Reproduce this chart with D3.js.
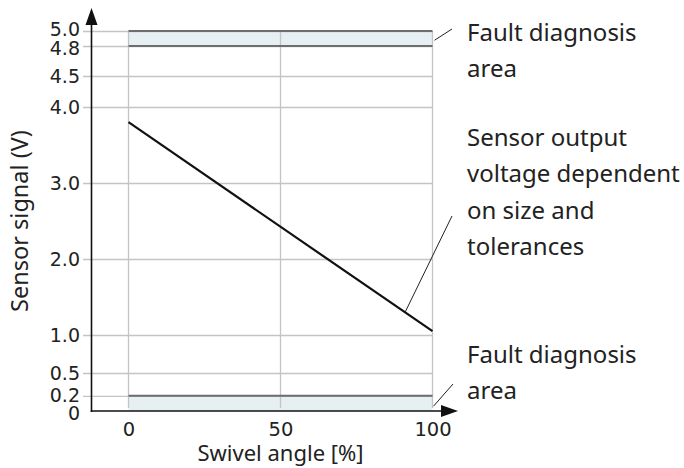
<!DOCTYPE html>
<html>
<head>
<meta charset="utf-8">
<script src="https://cdn.jsdelivr.net/npm/d3@7"></script>
<style>
  html, body { margin: 0; padding: 0; background: #fff; }
  svg { display: block; }
</style>
</head>
<body>
<svg id="chart" width="684" height="468"></svg>
<script>
// Sensor characteristic: signal voltage over swivel angle
const yTicks = [0, 0.2, 0.5, 1.0, 2.0, 3.0, 4.0, 4.5, 4.8, 5.0];
const yTickLabels = ["0", "0.2", "0.5", "1.0", "2.0", "3.0", "4.0", "4.5", "4.8", "5.0"];
const xTicks = [0, 50, 100];
const swivelAngle = [0, 100];
const sensorSignal = [3.80, 1.05];
const faultBands = [[0, 0.2], [4.8, 5.0]];
const notes = [
  { lines: ["Fault diagnosis", "area"], anchor: [100, 4.85] },
  { lines: ["Sensor output", "voltage dependent", "on size and", "tolerances"], anchor: [91, 1.30] },
  { lines: ["Fault diagnosis", "area"], anchor: [100, 0.05] }
];

const svg = d3.select("#chart");
const textFont = "'Noto Sans', sans-serif";
const tickFont = "'DejaVu Sans', sans-serif";

// x: swivel angle in %, y: piecewise scale (top section compressed)
const x = d3.scaleLinear().domain([0, 100]).range([128.5, 432.5]);
const y = d3.scaleLinear().domain([0, 4, 4.5, 4.8, 5]).range([411, 107, 76, 46, 31]);
const axisX = 91.5;

// fault diagnosis bands
svg.append("g").selectAll("rect").data(faultBands).join("rect")
  .attr("x", x(0)).attr("width", x(100) - x(0))
  .attr("y", d => y(d[1])).attr("height", d => y(d[0]) - y(d[1]))
  .attr("fill", "#e6eff2");

// horizontal grid + tick labels
const yAxis = d3.axisLeft(y).tickValues(yTicks)
  .tickFormat((d, i) => yTickLabels[i])
  .tickSize(-(x(100) - 83)).tickPadding(3);
const gy = svg.append("g").attr("transform", "translate(83,0)").call(yAxis);
gy.select(".domain").remove();
gy.selectAll(".tick line").attr("stroke", "#c4c4c4").attr("stroke-width", 1.3);
// spread the crowded labels at both ends a little apart
const labelNudge = { 0: 2, 4.8: 2, 5: -2 };
gy.selectAll(".tick text").attr("font-family", tickFont).attr("font-size", 19)
  .attr("fill", "#222")
  .attr("y", d => labelNudge[d] || 0);
gy.selectAll(".tick").filter(d => d === 0).select("line").remove();

// vertical grid + tick labels
const xAxis = d3.axisBottom(x).tickValues(xTicks).tickSize(0).tickPadding(11);
const gx = svg.append("g").attr("transform", `translate(0,${y(0)})`).call(xAxis);
gx.select(".domain").remove();
gx.selectAll(".tick text").attr("font-family", tickFont).attr("font-size", 19.5)
  .attr("fill", "#222");
svg.append("g").selectAll("line").data(xTicks).join("line")
  .attr("x1", d => x(d)).attr("x2", d => x(d))
  .attr("y1", y(5)).attr("y2", y(0) - 3)
  .attr("stroke", "#c4c4c4").attr("stroke-width", 1.3);

// band boundary lines
const bandEdges = [0.2, 4.8, 5.0];
svg.append("g").selectAll("line").data(bandEdges).join("line")
  .attr("x1", x(0)).attr("x2", x(100))
  .attr("y1", d => y(d)).attr("y2", d => y(d))
  .attr("stroke", "#6e6e6e").attr("stroke-width", 2);

// characteristic line
const line = d3.line().x(d => x(d[0])).y(d => y(d[1]));
svg.append("path")
  .datum(swivelAngle.map((a, i) => [a, sensorSignal[i]]))
  .attr("d", line).attr("fill", "none")
  .attr("stroke", "#111").attr("stroke-width", 2.2);

// axes with arrow heads
svg.append("line").attr("x1", axisX).attr("x2", axisX)
  .attr("y1", y(0) + 1).attr("y2", 22).attr("stroke", "#111").attr("stroke-width", 1.6);
svg.append("path").attr("d", `M${axisX},8 L${axisX - 6},25 L${axisX + 6},25 Z`).attr("fill", "#111");
svg.append("line").attr("x1", axisX - 0.8).attr("x2", 446)
  .attr("y1", y(0)).attr("y2", y(0)).attr("stroke", "#111").attr("stroke-width", 1.6);
svg.append("path").attr("d", `M458,${y(0)} L441,${y(0) - 6} L441,${y(0) + 6} Z`).attr("fill", "#111");

// axis titles
svg.append("text").attr("x", x(50)).attr("y", 461)
  .attr("text-anchor", "middle").attr("font-family", textFont).attr("font-size", 22)
  .attr("fill", "#222").text("Swivel angle [%]");
svg.append("text").attr("transform", `translate(28,${y(2.5)}) rotate(-90)`)
  .attr("text-anchor", "middle").attr("font-family", textFont).attr("font-size", 23.5)
  .attr("fill", "#222").text("Sensor signal (V)");

// annotations with leader lines
const textX = 467;
const noteLayout = [
  { top: 41, lead: [[2, -2], [452, 29]] },
  { top: 146, lead: [[0, 0], [452, 216]] },
  { top: 363, lead: [[1, -1], [453, 384]] }
];
notes.forEach((n, k) => {
  const L = noteLayout[k];
  const ax = x(n.anchor[0]) + L.lead[0][0];
  const ay = y(n.anchor[1]) + L.lead[0][1];
  svg.append("line").attr("x1", ax).attr("y1", ay)
    .attr("x2", L.lead[1][0]).attr("y2", L.lead[1][1])
    .attr("stroke", "#222").attr("stroke-width", 1);
  const t = svg.append("text").attr("font-family", textFont).attr("font-size", 24)
    .attr("fill", "#222");
  n.lines.forEach((s, i) => {
    t.append("tspan").attr("x", textX).attr("y", L.top + i * 36.3).text(s);
  });
});
</script>
</body>
</html>
